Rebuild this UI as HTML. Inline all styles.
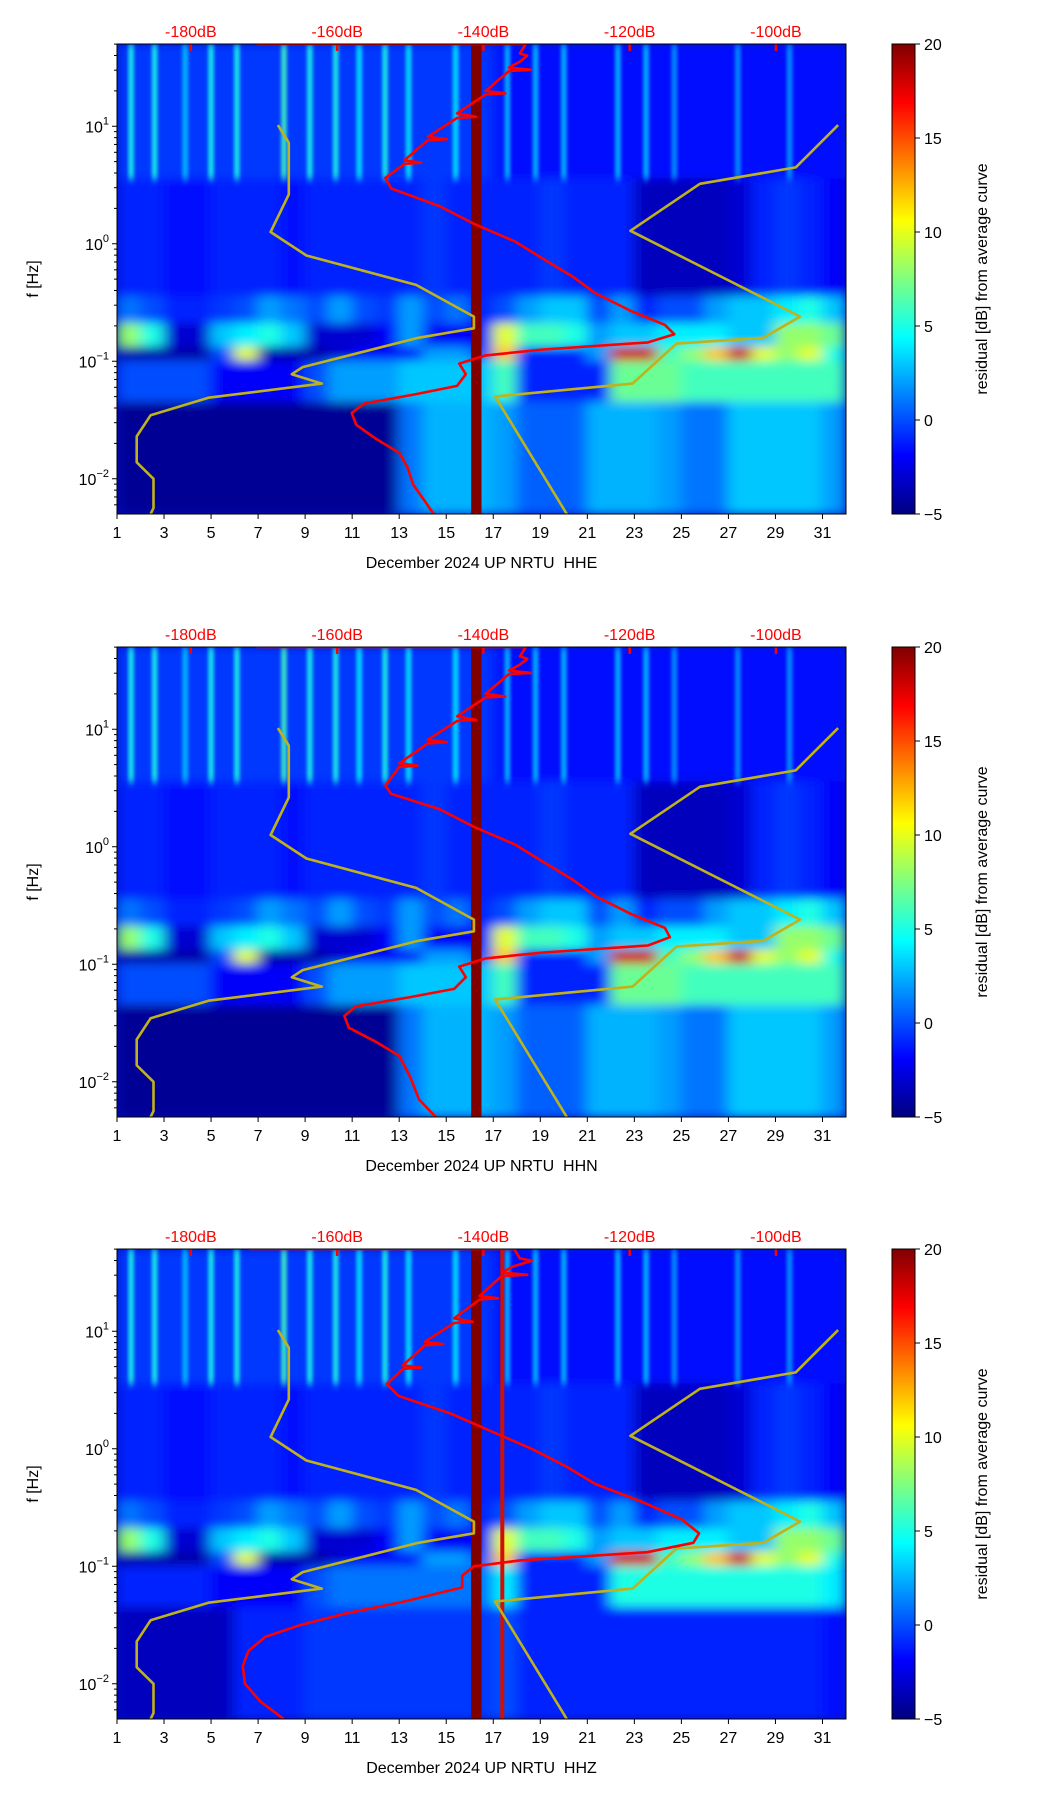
<!DOCTYPE html>
<html><head><meta charset="utf-8"><style>
body{margin:0;background:#fff;}
svg{display:block;font-family:"Liberation Sans",sans-serif;}
</style></head><body>
<svg id="fig" width="1052" height="1806" viewBox="0 0 1052 1806" xmlns="http://www.w3.org/2000/svg">
<defs>
<filter id="blurBig" x="-5%" y="-5%" width="110%" height="110%"><feGaussianBlur stdDeviation="7 5"/></filter>
<filter id="blurSmall"><feGaussianBlur stdDeviation="1.6 4"/></filter>
<linearGradient id="jetGrad" x1="0" y1="1" x2="0" y2="0">
<stop offset="0" stop-color="#000080"/><stop offset="0.125" stop-color="#0000ff"/><stop offset="0.375" stop-color="#00ffff"/><stop offset="0.625" stop-color="#ffff00"/><stop offset="0.875" stop-color="#ff0000"/><stop offset="1" stop-color="#800000"/>
</linearGradient>
</defs>
</svg>
<script>
// ---- data ----
const rowEdges=[1.7,0.55,-0.45,-0.68,-0.88,-1.0,-1.35,-2.3];
const rowA=[-0.5,-0.5,-0.5,-0.5,-0.5,-0.5,-0.5,-0.5,-0.5,-0.5,-0.5,-0.5,-0.5,-0.5,-0.5,-0.5,-1.5,-1.5,-1.5,-1.5,-1.5,-1.5,-1.5,-1.5,-1.5,-1.5,-1.5,-1.5,-1.5,-1.5,-1.5];
const rowB=[-1,-1,-1.5,-1.5,-1,-1,-1,-1.5,-1,-1,-1,-1,-1,-0.5,-1,-1,-1,-1,-0.5,-1,-1,-1,-3.5,-3.5,-3.5,-3.5,-3,-1,-0.5,-1,-2];
const rowC=[1,0,-1,-1,-0.5,0,2,1,0,2,0,-0.5,2,0,1,-1,0,2,3,3,0,2,-1,0,0,2,3,3,4,5,3];
const rowD=[8,5,-3,-3,3,4,5,3,-3,-3,-3,-2,2,-2,-2,-2,10,6,6,5,2,3,3,4,4,4,3,3,8,8,7];
const rowE=[-4,-4,-4,-4,0,10,-4,-4,-4,-3,-2,-2,-2,2,2,0,12,-1,-1,-1,2,18,18,6,8,12,18,10,8,10,5];
const rowF=[0,0,0,0,-2,-2,-2,-2,0,2,2,2,3,3,3,3,6,-1,-1,-1,-1,7,7,7,6,6,6,6,6,6,6];
const rowG=[-4.5,-4.5,-4.5,-4.5,-4.5,-4.5,-4.5,-4.5,-4.5,-4.5,-4.5,-4.5,1,2.5,2.5,2.5,2,0.5,0.5,0.5,2.5,2.5,2.5,2,1,1,3,3,3,3,2];
const rowF3=[-1,-1,-1,-1,-2,-2,-2,-2,0,1,1,1,1,1,1,1,4,-1,-1,-1,-1,5,5,5,5,5,5,5,5,5,4];
const rowG3=[-3.5,-3.5,-3.5,-3.5,-3.5,-1,-1,-1,-0.5,-0.5,-0.5,-0.5,-0.5,-0.5,-0.5,-0.5,0,-1,-1,-1,-1,-1,-1,-1,-1,-1,-1,-1,-1,-1,-1.5];
const stripeDays=[1.6,2.6,3.9,5.0,6.1,8.1,9.2,10.3,11.3,12.4,13.4,15.4,17.6,18.8,20.0,22.3,23.5,24.7,27.4,29.6];
const stripeVals=[5,5,3,5,5,6,5,5,4,5,4,4,3,3,3,3,3,2,2,2];
// red PSD curves: log10(f) and dB
const red1LF=[1.7,1.7,1.62,1.6,1.55,1.50,1.48,1.47,1.30,1.28,1.27,1.11,1.08,1.07,0.91,0.89,0.88,0.71,0.69,0.68,0.56,0.47,0.32,0.17,0.02,-0.13,-0.28,-0.42,-0.57,-0.69,-0.77,-0.84,-0.90,-0.95,-1.02,-1.11,-1.21,-1.28,-1.36,-1.44,-1.54,-1.66,-1.78,-1.90,-2.05,-2.20,-2.30];
const red1DB=[-171,-134.2,-135,-134,-135,-136.5,-133.5,-136.5,-139.7,-137,-139.7,-143.6,-141,-143.6,-147.6,-145,-147.6,-150.8,-148.5,-150.8,-153.4,-152.6,-146.0,-141.3,-135.7,-131.8,-127.8,-124.7,-119.9,-115.2,-113.9,-117.5,-131.8,-139.7,-143.3,-142.4,-143.6,-149.2,-156.3,-158.0,-157.4,-154.7,-151.5,-150.4,-149.6,-147.9,-146.8];
const red2LF=[1.7,1.7,1.62,1.6,1.55,1.50,1.48,1.47,1.30,1.28,1.27,1.11,1.08,1.07,0.91,0.89,0.88,0.71,0.69,0.68,0.52,0.45,0.32,0.17,0.02,-0.13,-0.28,-0.42,-0.57,-0.69,-0.77,-0.84,-0.90,-0.95,-1.02,-1.11,-1.21,-1.28,-1.36,-1.44,-1.54,-1.66,-1.78,-1.96,-2.15,-2.30];
const red2DB=[-171,-134.2,-135,-134,-135,-136.5,-133.5,-136.5,-139.7,-137,-139.7,-143.6,-141,-143.6,-147.6,-145,-147.6,-151.5,-149,-151.5,-153.4,-152.6,-146.0,-141.3,-135.7,-131.8,-127.8,-124.7,-119.9,-115.2,-114.5,-117.5,-131.8,-139.7,-143.3,-142.4,-144.0,-150,-157.5,-159.0,-158.4,-154.7,-151.5,-150.0,-148.8,-146.5];
const red3LF=[1.7,1.7,1.62,1.60,1.55,1.50,1.48,1.47,1.30,1.28,1.27,1.11,1.08,1.07,0.91,0.89,0.88,0.71,0.69,0.68,0.55,0.45,0.30,0.15,0.00,-0.15,-0.30,-0.45,-0.60,-0.72,-0.80,-0.88,-0.95,-1.00,-1.08,-1.18,-1.30,-1.40,-1.50,-1.60,-1.72,-1.85,-2.00,-2.15,-2.30];
const red3DB=[-172,-135.8,-135,-133.4,-136,-137.5,-134,-137.5,-140.5,-138,-140.5,-144,-141.5,-144,-148,-145.5,-148,-151,-148.5,-151,-153.2,-151.6,-144.5,-139.0,-133.4,-128.7,-124.7,-118.4,-112.9,-110.5,-111.3,-117.6,-135.0,-141.3,-142.9,-142.9,-150.8,-158.7,-165.0,-169.8,-172.1,-172.9,-172.6,-170.5,-167.3];
// yellow reference curves
const yelALF=[1.01,0.86,0.42,0.10,-0.10,-0.35,-0.62,-0.72,-0.80,-1.05,-1.11,-1.19,-1.31,-1.46,-1.64,-1.86,-2.00,-2.25,-2.30];
const yelADB=[-168.1,-166.6,-166.6,-169.1,-164.2,-149.2,-141.3,-141.3,-148.9,-164.7,-166.2,-162.1,-177.6,-185.5,-187.4,-187.4,-185.1,-185.1,-185.5];
const yelBLF=[1.01,0.65,0.51,0.11,-0.62,-0.80,-0.85,-1.19,-1.30,-2.30];
const yelBDB=[-91.5,-97.3,-110.4,-119.9,-96.7,-101.7,-113.6,-119.6,-138.4,-128.6];
const dayTicks=[1,3,5,7,9,11,13,15,17,19,21,23,25,27,29,31];
const dbTicks=[-180,-160,-140,-120,-100];
const cbTicks=[-5,0,5,10,15,20];
const yMajor=[1,0,-1,-2];
const barDay=[16.06,16.5];
const plots=[
 {top:44,label:"December 2024 UP NRTU\u00a0\u00a0HHE",rows:[rowA,rowB,rowC,rowD,rowE,rowF,rowG],rLF:red1LF,rDB:red1DB,extra:false},
 {top:647,label:"December 2024 UP NRTU\u00a0\u00a0HHN",rows:[rowA,rowB,rowC,rowD,rowE,rowF,rowG],rLF:red2LF,rDB:red2DB,extra:false},
 {top:1249,label:"December 2024 UP NRTU\u00a0\u00a0HHZ",rows:[rowA,rowB,rowC,rowD,rowE,rowF3,rowG3],rLF:red3LF,rDB:red3DB,extra:true}
];
// ---- layout ----
const L=117,W=729,H=470,CBX=892,CBW=23;
const svg=document.getElementById('fig');
const NS='http://www.w3.org/2000/svg';
function mk(tag,attrs,parent){const e=document.createElementNS(NS,tag);for(const k in attrs)e.setAttribute(k,attrs[k]);(parent||svg).appendChild(e);return e;}
function xDay(d){return L+(d-1)*W/31;}
function dbToDay(db){return 4.14+(db+180)*6.22/20;}
function xDB(db){return xDay(dbToDay(db));}
function yF(top,lf){return top+(1.7-lf)/4*H;}
function clamp(v){return Math.max(0,Math.min(1,v));}
function jet(v){const t=(v+5)/25;const r=clamp(1.5-Math.abs(4*t-3)),g=clamp(1.5-Math.abs(4*t-2)),b=clamp(1.5-Math.abs(4*t-1));return `rgb(${Math.round(r*255)},${Math.round(g*255)},${Math.round(b*255)})`;}

plots.forEach((p,pi)=>{
 const T=p.top;
 const clip=mk('clipPath',{id:'clip'+pi},svg.querySelector('defs'));
 mk('rect',{x:L,y:T,width:W,height:H},clip);
 const g=mk('g',{'clip-path':`url(#clip${pi})`});
 
 
 mk('rect',{x:L,y:T,width:W,height:H,fill:'#0010c0'},g);
 const cells=mk('g',{filter:'url(#blurBig)'},g);
 p.rows.forEach((row,ri)=>{
  const y0=yF(T,rowEdges[ri]),y1=yF(T,rowEdges[ri+1]);
  row.forEach((v,di)=>{
   const c=mk('rect',{x:xDay(di+1)-0.5,y:y0-0.5,width:W/31+1,height:y1-y0+1,fill:jet(v)},cells);
   
   
  });
 });
 const st=mk('g',{filter:'url(#blurSmall)'},g);
 stripeDays.forEach((d,i)=>{
  const s=mk('rect',{x:xDay(d)-3,y:yF(T,1.7),width:6,height:yF(T,0.55)-yF(T,1.7),fill:jet(stripeVals[i]),opacity:0.8},st);
  
  
 });
 const bar=mk('rect',{x:xDay(barDay[0]),y:T,width:xDay(barDay[1])-xDay(barDay[0]),height:H,fill:'#800000'},g);
 
 
 if(p.extra){const b2=mk('rect',{x:xDay(17.3),y:T,width:4,height:H,fill:'#d01000'},g);}
 [[yelALF,yelADB],[yelBLF,yelBDB]].forEach(([lf,db],k)=>{
  const pts=lf.map((f,i)=>xDB(db[i]).toFixed(1)+','+yF(T,f).toFixed(1)).join(' ');
  const pl=mk('polyline',{points:pts,fill:'none',stroke:'#bfb21a','stroke-width':2.6,'stroke-linejoin':'round'},g);
  
  
 });
 const rpts=p.rLF.map((f,i)=>xDB(p.rDB[i]).toFixed(1)+','+yF(T,f).toFixed(1)).join(' ');
 const rl=mk('polyline',{points:rpts,fill:'none',stroke:'#ff0000','stroke-width':2.6,'stroke-linejoin':'round'},g);
 
 
 dbTicks.forEach(db=>{
  const x=xDB(db);
  mk('line',{x1:x,y1:T,x2:x,y2:T+7,stroke:'#ff0000','stroke-width':2.5});
  const t=mk('text',{x:x,y:T-7,'font-size':16,fill:'#ff0000','text-anchor':'middle'});
  t.textContent=db+'dB';
  
  
 });
 const fr=mk('rect',{x:L,y:T,width:W,height:H,fill:'none',stroke:'#000','stroke-width':1});
 
 
 dayTicks.forEach(d=>{
  const x=xDay(d);
  mk('line',{x1:x,y1:T+H,x2:x,y2:T+H+5,stroke:'#000'});
  const t=mk('text',{x:x,y:T+H+24,'font-size':16,'text-anchor':'middle'});
  t.textContent=d;
  
  
 });
 const xl=mk('text',{x:L+W/2,y:T+H+54,'font-size':16,'text-anchor':'middle'});
 xl.textContent=p.label;
 
 
 for(let n=-3;n<=1;n++){for(let k=1;k<=9;k++){const lf=n+Math.log10(k);if(lf<-2.3||lf>1.7)continue;const y=yF(T,lf);mk('line',{x1:L-(k===1?5:3),y1:y,x2:L,y2:y,stroke:'#000'});}}
 yMajor.forEach(n=>{
  const y=yF(T,n);
  const t=mk('text',{x:L-8,y:y+6,'font-size':16,'text-anchor':'end'});
  
  
  const a=mk('tspan',{},t);a.textContent='10';
  const s=mk('tspan',{'font-size':11,dy:-8},t);
  s.textContent=n<0?'\u2212'+(-n):String(n);
 });
 const yl=mk('text',{x:0,y:0,'font-size':16,'text-anchor':'middle',transform:`translate(38,${T+H/2}) rotate(-90)`});
 yl.textContent='f [Hz]';
 
 
 const cb=mk('rect',{x:CBX,y:T,width:CBW,height:H,fill:'url(#jetGrad)',stroke:'#000','stroke-width':1});
 
 
 cbTicks.forEach(v=>{
  const y=T+H-(v+5)/25*H;
  mk('line',{x1:CBX+CBW,y1:y,x2:CBX+CBW+5,y2:y,stroke:'#000'});
  const t=mk('text',{x:CBX+CBW+9,y:y+6,'font-size':16});
  t.textContent=v<0?'\u2212'+(-v):String(v);
  
  
 });
 const cl=mk('text',{x:0,y:0,'font-size':16,'text-anchor':'middle',transform:`translate(987,${T+H/2}) rotate(-90)`});
 cl.textContent='residual [dB] from average curve';
 
 
});
</script>
</body></html>
